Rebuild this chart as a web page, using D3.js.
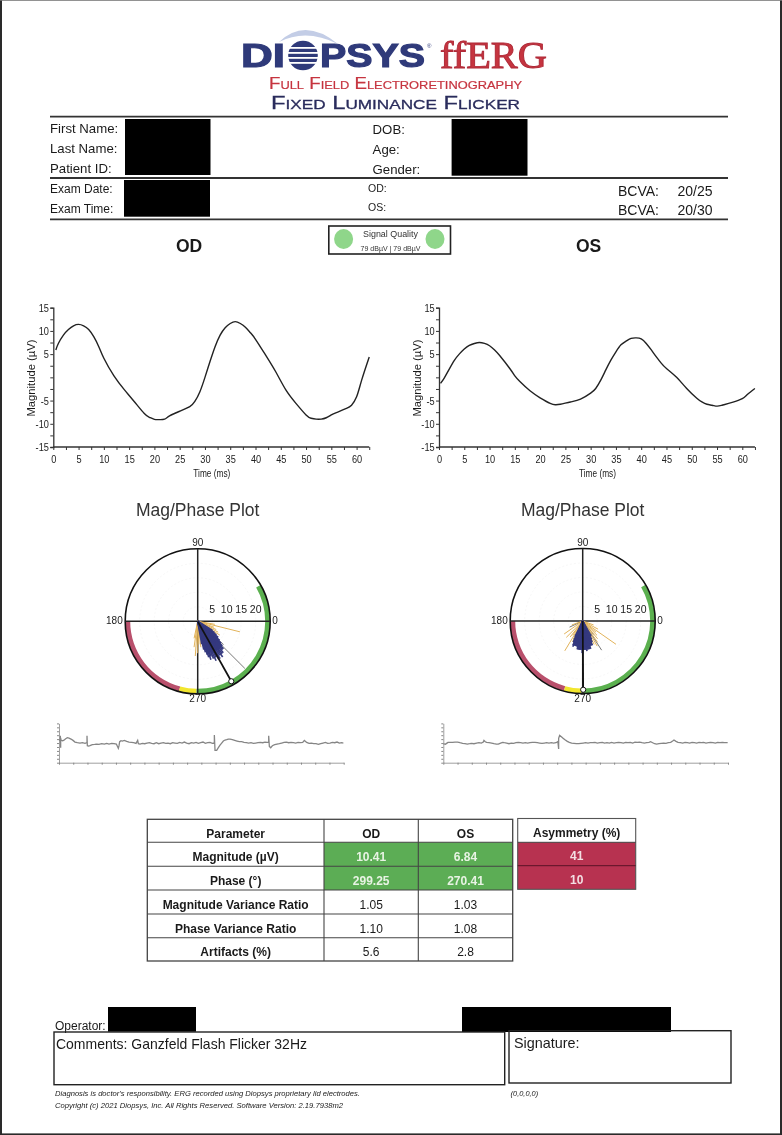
<!DOCTYPE html>
<html><head><meta charset="utf-8">
<script src="https://cdn.jsdelivr.net/npm/d3@7"></script>
<style>
html,body{margin:0;padding:0;background:#fff}
svg{display:block;filter:blur(0.5px)}
text{font-family:"Liberation Sans",Arial,sans-serif;fill:#1a1a1a}
</style></head><body>
<script>
// ---------- waveform data (time ms, magnitude µV)
const odT=[0.5,1,2,3,4,5,6,7,8,9,10,12,14,16,18,19,20,21,22,23,25,27,28,29,30,31,32,33,34,35,36,37,38,39,40,42,44,46,48,50,51,52,53,54,55,56,58,59,60,61,62.5];
const odV=[5.9,7.3,9.1,10.3,11.1,11.4,11.1,10.3,8.75,6.6,4.1,0.3,-2.6,-5.2,-7.8,-8.6,-9.05,-9.1,-9,-8.3,-7.3,-6.3,-5.2,-3.1,0,3.4,6.6,9.1,10.7,11.6,12,11.6,10.8,9.6,8.2,4.8,1.2,-2.7,-5.6,-8.1,-8.8,-9,-9,-8.7,-8.1,-7.6,-6.7,-6,-4.2,-0.6,4.4];
const osT=[0.3,1,2,3,4,5,6,7,8,9,10,11,12,14,15,16,18,20,22,23,24,26,28,30,31,32,33,34,35,36,37,38,39,40,41,42,43,44,45,47,49,51,52,53,54,55,56,58,60,61,62.5];
const osV=[-1.3,-0.2,1.7,3.6,5,6.1,6.9,7.3,7.5,7.3,6.8,5.9,4.7,1.9,0.3,-0.9,-2.9,-4.4,-5.6,-5.9,-5.8,-5.3,-4.7,-3.4,-2.4,-0.6,1.6,3.7,5.5,7,7.8,8.4,8.5,8.3,7.3,5.9,4.4,3,1.9,0,-2.4,-4.5,-5.3,-5.8,-6,-6.2,-6,-5.4,-4.6,-3.7,-2.4];
const xTickVals=[0,5,10,15,20,25,30,35,40,45,50,55,60];
const yTickVals=[15,10,5,-5,-10,-15];
// ---------- polar rays: [degrees, µV]
const odBlue=[[280,8],[282,10],[284,11],[286,12],[287,13],[288,11],[289,14],[290,12],[291,13],[292,11],[293,14],[294,12],[295,15],[296,12],[297,14],[298,12],[299,15],[300,13],[301,15],[302,12],[303,14],[304,12],[305,15],[306,13],[307,14],[308,12],[309,14],[310,12],[311,13],[312,12],[313,13],[314,11],[315,12],[316,11],[317,11],[318,10],[319,10],[320,9],[322,9],[324,8],[326,7],[328,6]];
const odOrange=[[258,6],[262,9],[266,12],[270,11],[273,8],[277,9],[281,7],[328,9],[332,8],[336,7],[340,6],[346,15],[350,6]];
const odGrey=[[315,23],[303,13],[318,12]];
const osBlue=[[244,6],[246,8],[248,9],[249,9.5],[250,9],[252,9],[254,9],[255,9],[256,8],[257,9],[258,9],[259,10],[260,9],[261,10],[262,9],[263,10],[264,9],[265,10],[266,9],[267,10],[268,10],[269,11],[270,11.5],[271,10],[272,10],[273,9],[274,10],[275,9],[276,10],[277,9],[278,10.5],[279,9],[280,10],[281,9],[282,10],[283,9],[284,10],[285,9],[286,10],[288,9],[290,9],[292,9],[294,8],[296,7],[299,6]];
const osOrange=[[215,7.8],[225,8],[232,7],[239,12],[244,8],[250,9],[258,8],[300,10],[305,9],[310,8],[315,7],[320,6],[325,14],[332,6],[340,4],[200,4],[235,6],[296,9]];
const osGrey=[[303,12],[243,7],[285,9],[309,6],[205,5]];
const rRings=[5,10,15,20];
const ringLabels=["5","10","15","20"];
const compass=["0","90","180","270"];
// ---------- magnitude/phase result
const odResult=[299.25,23.7];
const osResult=[270.41,23.7];
// ---------- arc bands: start, end degrees
const bandAngles=[[180,255],[255,269],[269,390]];
const bandColors=["#b9506c","#f2e62e","#5bb04f"];
// ---------- raw trace strips: [sample, amplitude]
const odTrace=[[0,8],[3,10],[4,8],[4,22],[5,-14],[5,16],[6,9],[10,7],[14,8],[20,13],[25,16],[30,15],[36,12],[42,8],[48,3],[55,1],[63,0],[70,1],[78,-1],[83,1],[84,0],[84,22],[85,-8],[89,-9],[93,-8],[100,-5],[107,-4],[113,-3],[120,-4],[128,-2],[136,-3],[143,-1],[150,-3],[158,-1],[165,-2],[172,-3],[178,-16],[180,-8],[182,4],[186,7],[190,6],[196,8],[203,5],[210,3],[217,2],[224,1],[231,-1],[236,8],[238,-2],[243,-3],[250,-1],[257,-2],[264,0],[271,1],[278,-1],[285,-2],[292,1],[299,-2],[306,0],[313,1],[320,-1],[327,0],[334,-2],[341,1],[348,0],[355,-1],[362,2],[369,0],[376,3],[383,0],[390,-2],[397,1],[404,0],[411,2],[418,-1],[425,1],[432,3],[439,-1],[446,1],[453,2],[460,-1],[465,0],[466,-1],[466,24],[468,-22],[473,-22],[478,-14],[483,-6],[488,0],[493,6],[498,9],[503,10],[508,12],[513,12],[520,10],[527,8],[534,6],[541,4],[548,4],[555,2],[562,1],[569,0],[576,1],[583,-1],[590,0],[597,1],[604,2],[611,1],[618,3],[624,2],[628,2],[629,2],[629,22],[631,-10],[635,-14],[640,-8],[647,-5],[654,-3],[661,-2],[668,0],[675,2],[682,3],[689,1],[696,2],[703,1],[710,0],[717,2],[724,1],[731,2],[736,8],[743,2],[750,-1],[757,0],[764,-2],[771,-2],[778,-4],[785,-2],[792,0],[799,2],[806,-1],[813,0],[820,2],[827,1],[834,3],[841,0],[848,1],[853,0]];
const osTrace=[[0,-2],[6,-4],[10,-1],[14,2],[21,2],[28,2],[35,3],[43,3],[50,1],[58,-1],[65,-2],[72,-3],[79,-2],[85,-1],[92,-2],[100,0],[107,1],[114,0],[120,3],[122,8],[126,4],[130,2],[137,1],[145,0],[152,-2],[159,-3],[165,-3],[172,0],[178,2],[183,1],[190,0],[197,-2],[204,0],[211,-1],[218,1],[225,2],[232,1],[239,0],[246,1],[253,0],[260,1],[267,2],[275,2],[282,1],[289,0],[296,-1],[303,0],[310,1],[317,0],[324,1],[331,0],[338,1],[343,4],[344,2],[346,-18],[346,14],[349,23],[355,18],[360,14],[365,10],[372,5],[378,2],[385,0],[392,-1],[399,-2],[406,-2],[413,-1],[420,0],[427,1],[434,0],[441,1],[448,1],[455,2],[462,0],[470,1],[477,2],[484,0],[491,1],[498,0],[505,2],[512,0],[519,1],[526,2],[533,1],[540,0],[547,2],[554,1],[561,2],[568,0],[575,3],[582,2],[589,3],[596,1],[603,0],[610,1],[617,2],[622,4],[628,1],[634,-2],[640,-3],[647,-2],[654,-1],[661,0],[668,-1],[675,1],[682,2],[688,6],[692,9],[698,5],[704,2],[711,1],[718,0],[725,2],[732,1],[739,0],[746,2],[753,1],[760,0],[767,2],[774,1],[781,2],[788,0],[795,1],[802,2],[809,1],[816,0],[823,2],[830,1],[837,2],[844,1],[853,1]];
const traceTickStep=42.7;
// ---------- table
const tableHeader=["Parameter","OD","OS"];
const tableParams=["Magnitude (µV)","Phase (°)","Magnitude Variance Ratio","Phase Variance Ratio","Artifacts (%)"];
const tableOD=["10.41","299.25","1.05","1.10","5.6"];
const tableOS=["6.84","270.41","1.03","1.08","2.8"];
const asymHeader="Asymmetry (%)";
const asymVals=["41","10"];

const svg=d3.select("body").append("svg").attr("width",782).attr("height",1135);
function T(x,y,s,o={}){
  const t=svg.append("text").attr("x",x).attr("y",y).text(s)
    .attr("font-size",o.size||13).attr("text-anchor",o.anchor||"start");
  if(o.weight)t.attr("font-weight",o.weight);
  if(o.color)t.style("fill",o.color);
  if(o.italic)t.attr("font-style","italic");
  if(o.family)t.style("font-family",o.family);
  if(o.len)t.attr("textLength",o.len).attr("lengthAdjust","spacingAndGlyphs");
  if(o.sc)t.style("font-variant","small-caps");
  if(o.stroke)t.style("stroke",o.stroke).style("stroke-width",o.sw||0.4);
  return t;
}
function R(x0,y0,x1,y1,fill,stroke,sw){
  return svg.append("rect").attr("x",x0).attr("y",y0).attr("width",x1-x0).attr("height",y1-y0)
   .attr("fill",fill||"none").attr("stroke",stroke||"none").attr("stroke-width",sw||0);
}
function H(x0,x1,y,c,w){svg.append("line").attr("x1",x0).attr("x2",x1).attr("y1",y).attr("y2",y).attr("stroke",c||"#333").attr("stroke-width",w||2);}

// page edge
R(0,0,2,1135,"#2a2a2a");
R(0,1133.4,782,1135,"#2a2a2a");
R(780,0,782,1135,"#2a2a2a");
R(0,0,782,0.8,"#777");

// ---------- logo
const navy="#2f3a7a",red="#c6343f";
svg.append("path").attr("d","M279 42 Q305 17 338 44 Q306 28 279 42Z").attr("fill","#c3cde6");
T(241,67,"DI",{size:34,weight:"bold",color:navy,stroke:navy,sw:1.2,len:44});
T(320,67,"PSYS",{size:34,weight:"bold",color:navy,stroke:navy,sw:1.2,len:105});
const oc=svg.append("g");
oc.append("circle").attr("cx",303).attr("cy",55.5).attr("r",14.8).attr("fill",navy);
[47,52,57,62].forEach(y=>oc.append("rect").attr("x",287).attr("y",y).attr("width",32).attr("height",1.8).attr("fill","#fff"));
T(427,48,"®",{size:6,color:navy});
T(440,67.5,"ffERG",{size:37,family:"Liberation Serif",color:red,stroke:"#b02a38",sw:0.9,len:107});
T(269,89,"Full Field Electroretinography",{size:16,color:red,sc:true,len:253,stroke:red,sw:0.2});
T(271,109,"Fixed Luminance Flicker",{size:18,color:"#2a2c5c",sc:true,len:249,stroke:"#2a2c5c",sw:0.3});

// ---------- header block
H(50,728,116.7,"#333",1.8); H(50,728,178,"#333",1.8); H(50,728,219.3,"#333",1.8);
[["First Name:",132.7],["Last Name:",152.7],["Patient ID:",173]].forEach(d=>T(50,d[1],d[0],{size:13.2}));
[["DOB:",134],["Age:",154],["Gender:",174]].forEach(d=>T(372.6,d[1],d[0],{size:13.2}));
[["Exam Date:",192.7],["Exam Time:",212.7]].forEach(d=>T(50,d[1],d[0],{size:12}));
[["OD:",191.7],["OS:",211]].forEach(d=>T(368,d[1],d[0],{size:10.5}));
[["20/25",196],["20/30",215.3]].forEach(d=>{T(618,d[1],"BCVA:",{size:14});T(677.5,d[1],d[0],{size:14});});
R(125,119,210.5,175,"#000");R(451.6,119,527.5,175.7,"#000");R(124,180,210,216.7,"#000");
R(328.8,226,450.5,254,"#fff","#222",1.6);
[343.6,435].forEach(x=>svg.append("ellipse").attr("cx",x).attr("cy",239).attr("rx",9.5).attr("ry",10).attr("fill","#8fd68a"));
T(363,236.5,"Signal Quality",{size:9,len:55,color:"#333"});
T(360.5,250.5,"79 dBµV  |  79 dBµV",{size:6.5,len:60,color:"#333"});
T(189,252,"OD",{size:17.5,weight:"bold",anchor:"middle"});
T(588.6,252,"OS",{size:17.5,weight:"bold",anchor:"middle"});

// ---------- waveforms
function wave(x0,tv,vv){
  const x=d3.scaleLinear().domain([0,60]).range([x0,x0+303.3]);
  const y=d3.scaleLinear().domain([-15,15]).range([447,307.7]);
  const g=svg.append("g");
  const ax=g.append("g").attr("transform","translate(0,447)").call(
    d3.axisBottom(x).tickValues(d3.range(0,62.6,2.5)).tickSizeOuter(0).tickSize(3)
      .tickFormat(d=>xTickVals.includes(d)?d:""));
  ax.select(".domain").attr("d",`M${x(0)},0H${x(62.5)}`);
  const ay=g.append("g").attr("transform",`translate(${x0},0)`).call(
    d3.axisLeft(y).tickValues(d3.range(-15,15.1,2.5)).tickSizeOuter(0).tickSize(3)
      .tickFormat(d=>yTickVals.includes(d)?d:""));
  [ax,ay].forEach(a=>{a.selectAll("line").attr("stroke","#333");a.select(".domain").attr("stroke","#333").attr("stroke-width",1.3);
    a.selectAll("text").attr("font-size",11.5).style("fill","#222").attr("transform","scale(0.8,1)");});
  ax.selectAll("text").attr("dy","0.85em");
  ay.selectAll("text").attr("x",-5.5);
  g.append("path").attr("d",d3.line().x((d,i)=>x(tv[i])).y(d=>y(d)).curve(d3.curveNatural)(vv))
    .attr("fill","none").attr("stroke","#222").attr("stroke-width",1.4);
  g.append("text").attr("x",x0+140).attr("y",476.5).attr("font-size",11).attr("textLength",37).attr("lengthAdjust","spacingAndGlyphs").text("Time (ms)");
  g.append("text").attr("transform",`translate(${x0-18.5},378) rotate(-90)`).attr("text-anchor","middle").attr("font-size",10)
    .attr("textLength",77).attr("lengthAdjust","spacingAndGlyphs").text("Magnitude (µV)");
}
wave(53.3,odT,odV);
wave(439,osT,osV);

// ---------- polar plots
function polar(cx,cy,blue,orange,grey,result,title){
  const R0=72.5;
  const r=d3.scaleLinear().domain([0,25]).range([0,R0]);
  const g=svg.append("g").attr("transform",`translate(${cx},${cy})`);
  const px=(a,m)=>r(m)*Math.cos(a*Math.PI/180), py=(a,m)=>-r(m)*Math.sin(a*Math.PI/180);
  rRings.forEach(m=>g.append("circle").attr("r",r(m)).attr("fill","none").attr("stroke","#f1f1f1").attr("stroke-width",0.6).attr("stroke-dasharray","2 2"));
  const arc=d3.arc();
  bandAngles.forEach((b,i)=>g.append("path").attr("fill",bandColors[i]).attr("d",arc({innerRadius:R0-5,outerRadius:R0,
    startAngle:(90-b[0])*Math.PI/180,endAngle:(90-b[1])*Math.PI/180})));
  g.append("circle").attr("r",R0).attr("fill","none").attr("stroke","#111").attr("stroke-width",1.6);
  [[-R0,0,R0,0],[0,-R0,0,R0]].forEach(l=>g.append("line").attr("x1",l[0]).attr("y1",l[1]).attr("x2",l[2]).attr("y2",l[3]).attr("stroke","#222").attr("stroke-width",1.5));
  const rays=(D,c,w)=>g.append("g").selectAll("line").data(D).join("line").attr("x1",0).attr("y1",0)
    .attr("x2",d=>px(d[0],d[1])).attr("y2",d=>py(d[0],d[1])).attr("stroke",c).attr("stroke-width",w);
  rays(grey,"#777",1);
  rays(orange,"#e2b35a",1);
  rays(blue,"#35397f",1.6);
  g.append("line").attr("x1",0).attr("y1",0).attr("x2",px(result[0],result[1])).attr("y2",py(result[0],result[1])).attr("stroke","#111").attr("stroke-width",1.7);
  g.append("circle").attr("cx",px(result[0],result[1])).attr("cy",py(result[0],result[1])).attr("r",2.6).attr("fill","#fff").attr("stroke","#111").attr("stroke-width",1);
  rRings.forEach((m,i)=>g.append("text").attr("x",r(m)).attr("y",-8).attr("text-anchor","middle").attr("font-size",10.5).text(ringLabels[i]));
  const L=[[74.5,3,"start",0],[0,-75.5,"middle",1],[-75,3,"end",2],[0,81,"middle",3]];
  L.forEach(d=>g.append("text").attr("x",d[0]).attr("y",d[1]).attr("text-anchor",d[2]).attr("font-size",10).text(compass[d[3]]));
  T(cx,516,title,{size:17.5,anchor:"middle",color:"#333"});
}
polar(197.7,621.3,odBlue,odOrange,odGrey,odResult,"Mag/Phase Plot");
polar(582.7,621,osBlue,osOrange,osGrey,osResult,"Mag/Phase Plot");

// ---------- raw strips
function strip(x0,tr){
  const x=d3.scaleLinear().domain([0,854]).range([x0,x0+284.7]);
  const y=d3.scaleLinear().domain([-59,59]).range([762.7,723.4]);
  const g=svg.append("g");
  const ax=g.append("g").attr("transform","translate(0,762.7)").call(d3.axisBottom(x).tickValues(d3.range(21).map(i=>i*traceTickStep)).tickSize(2).tickSizeOuter(0).tickFormat(""));
  const ay=g.append("g").attr("transform",`translate(${x0},0)`).call(d3.axisLeft(y).tickValues(d3.range(11).map(i=>-59+i*11.8)).tickSize(2).tickSizeOuter(0).tickFormat(""));
  [ax,ay].forEach(a=>{a.selectAll("line").attr("stroke","#888");a.select(".domain").attr("stroke","#888").attr("stroke-width",0.8);});
  g.append("path").attr("d",d3.line().x(d=>x(d[0])).y(d=>y(d[1]))(tr)).attr("fill","none").attr("stroke","#858585").attr("stroke-width",1.3);
}
strip(59,odTrace);
strip(443.3,osTrace);

// ---------- table
const cols=[147.3,324,418.3,512.7], rows=[819.3,842.3,866.3,890,914,937.7,961];
const green="#5cad55", crim="#b73250";
R(cols[1],rows[1],cols[3],rows[3],green);
R(517.7,842.3,635.7,889.3,crim);
R(147.3,819.3,512.7,961,"none","#444",1.3);
R(517.7,818.5,635.7,889.3,"none","#555",1.1);
cols.slice(1,3).forEach(x=>svg.append("line").attr("x1",x).attr("x2",x).attr("y1",819.3).attr("y2",961).attr("stroke","#444").attr("stroke-width",1.1));
rows.slice(1,6).forEach(y=>H(147.3,512.7,y,"#444",1.1));
H(517.7,635.7,842.3,"#444",1);H(517.7,635.7,865.7,"#5a1226",1);
tableHeader.forEach((s,i)=>T((cols[i]+cols[i+1])/2,rows[0]+18.4,s,{size:12,weight:"bold",anchor:"middle"}));
T(576.7,837.3,asymHeader,{size:12,weight:"bold",anchor:"middle"});
tableParams.forEach((s,i)=>{
  const yb=rows[i+1]+18.5;
  T((cols[0]+cols[1])/2,yb,s,{size:12,weight:"bold",anchor:"middle"});
  const c=i<2?"#e8f3e4":"#1a1a1a",w=i<2?"bold":null;
  T((cols[1]+cols[2])/2,yb,tableOD[i],{size:12,anchor:"middle",color:c,weight:w});
  T((cols[2]+cols[3])/2,yb,tableOS[i],{size:12,anchor:"middle",color:c,weight:w});
});
asymVals.forEach((s,i)=>T(576.7,rows[i+1]+17.5,s,{size:12,anchor:"middle",weight:"bold",color:"#f3dfe3"}));

// ---------- footer
T(55,1029.5,"Operator:",{size:12});
R(108,1007,196,1031.7,"#000");R(462,1007,671,1032,"#000");
R(54,1032,504.7,1084.7,"none","#222",1.4);
R(509,1030.7,731,1083,"none","#222",1.4);
T(56,1048.7,"Comments: Ganzfeld Flash Flicker 32Hz",{size:14.4,len:251});
T(514,1047.7,"Signature:",{size:14.4});
T(55,1096,"Diagnosis is doctor's responsibility. ERG recorded using Diopsys proprietary lid electrodes.",{size:7.4,italic:true,len:305});
T(55,1107.5,"Copyright (c) 2021 Diopsys, Inc. All Rights Reserved. Software Version: 2.19.7938m2",{size:7.4,italic:true,len:288});
T(510.6,1095.5,"(0,0,0,0)",{size:7.4,italic:true});
</script></body></html>
